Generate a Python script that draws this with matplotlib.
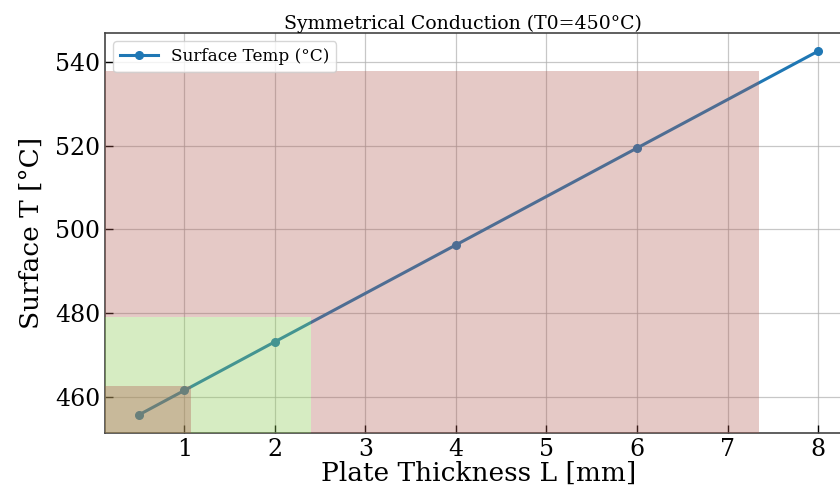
import numpy as np
import matplotlib.pyplot as plt
from matplotlib.patches import Rectangle, Polygon

# plate thickness [mm] and resulting surface temperature [°C]
L_mm = [0.5, 1, 2, 4, 6, 8]
T_surf = [455.8, 461.6, 473.2, 496.3, 519.4, 542.5]

# zone limits: (thickness end [mm], temperature top [°C])
red_zone = (7.35, 537.8)
green_zone = (2.4, 479.1)
brown_zone = (1.08, 462.6)

red_c, green_c = '#b05b52', '#8ccb51'

plt.rcParams['font.family'] = 'DejaVu Serif'

fig = plt.figure(figsize=(8.4, 4.96), dpi=100)
ax = fig.add_axes([105 / 840, 63 / 496, 747 / 840, 400 / 496])

ax.plot(L_mm, T_surf, '-o', color='#1f77b4', lw=2.2, ms=5.5, label='Surface Temp (°C)')
ax.margins(x=0.05, y=0.05)
ax.grid(True, color='#b0b0b0', lw=0.9, alpha=0.7)

x0 = ax.get_xlim()[0]
y0 = ax.get_ylim()[0]
ax.add_patch(Rectangle((x0, y0), green_zone[0] - x0, green_zone[1] - y0,
                       color=green_c, alpha=0.35, lw=0, zorder=3))
ax.add_patch(Polygon([(x0, green_zone[1]), (green_zone[0], green_zone[1]),
                      (green_zone[0], y0), (red_zone[0], y0),
                      (red_zone[0], red_zone[1]), (x0, red_zone[1])],
                     closed=True, color=red_c, alpha=0.33, lw=0, zorder=3))
ax.add_patch(Rectangle((x0, y0), brown_zone[0] - x0, brown_zone[1] - y0,
                       color=red_c, alpha=0.35, lw=0, zorder=3))

ax.set_xticks([1, 2, 3, 4, 5, 6, 7, 8])
ax.set_yticks([460, 480, 500, 520, 540])
ax.tick_params(direction='in', labelsize=17, length=6, width=1)
ax.set_xlabel('Plate Thickness L [mm]', fontsize=19, labelpad=0)
ax.set_ylabel('Surface T [°C]', fontsize=19, labelpad=8)
ax.set_title('Symmetrical Conduction (T0=450°C)', fontsize=13.6, x=0.479, pad=3)
ax.legend(loc='upper left', fontsize=12.2, handlelength=2.2, borderaxespad=0.5)
for s in ax.spines.values():
    s.set_color('#444444')
    s.set_linewidth(1.2)

fig.savefig('out.png', dpi=100)
